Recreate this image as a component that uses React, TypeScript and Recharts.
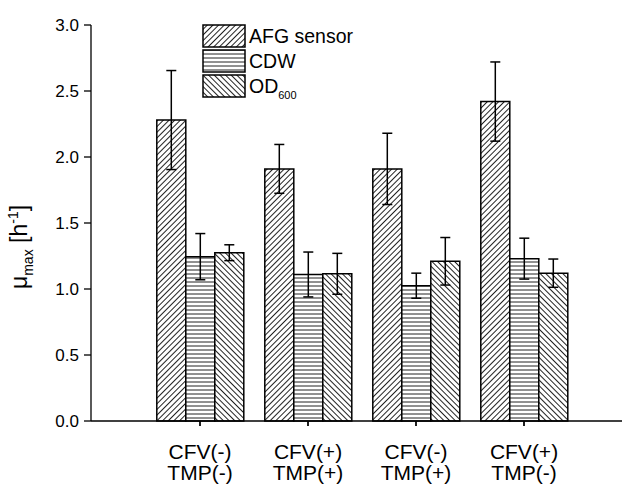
import React from 'react';
import { BarChart, Bar, XAxis, YAxis, ErrorBar } from 'recharts';

const cfvLabels = ['CFV(-)', 'CFV(+)', 'CFV(-)', 'CFV(+)'];
const tmpLabels = ['TMP(-)', 'TMP(+)', 'TMP(+)', 'TMP(-)'];
const afgValues = [2.28, 1.91, 1.91, 2.42];
const afgErrors = [0.375, 0.185, 0.27, 0.3];
const cdwValues = [1.245, 1.11, 1.025, 1.23];
const cdwErrors = [0.175, 0.17, 0.095, 0.155];
const odValues = [1.275, 1.115, 1.21, 1.12];
const odErrors = [0.06, 0.155, 0.18, 0.107];
const majorTicks = [0, 0.5, 1, 1.5, 2, 2.5, 3];
const minorTicks = [0.25, 0.75, 1.25, 1.75, 2.25, 2.75];

const data = cfvLabels.map((c, i) => ({
  name: c + ' ' + tmpLabels[i],
  afg: afgValues[i],
  afgErr: afgErrors[i],
  cdw: cdwValues[i],
  cdwErr: cdwErrors[i],
  od: odValues[i],
  odErr: odErrors[i],
}));

const FONT = '"Liberation Sans", Arial, sans-serif';

const Patterns = ({ prefix }: { prefix: string }) => (
  <defs>
    <pattern id={prefix + 'fwd'} patternUnits="userSpaceOnUse" width={4} height={4} patternTransform="rotate(45)">
      <rect width={4} height={4} fill="#fff" />
      <line x1={0.5} y1={0} x2={0.5} y2={4} stroke="#222" strokeWidth={1} />
    </pattern>
    <pattern id={prefix + 'hor'} patternUnits="userSpaceOnUse" width={4} height={4}>
      <rect width={4} height={4} fill="#fff" />
      <line x1={0} y1={2} x2={4} y2={2} stroke="#222" strokeWidth={1} />
    </pattern>
    <pattern id={prefix + 'bwd'} patternUnits="userSpaceOnUse" width={4} height={4} patternTransform="rotate(-45)">
      <rect width={4} height={4} fill="#fff" />
      <line x1={0.5} y1={0} x2={0.5} y2={4} stroke="#222" strokeWidth={1} />
    </pattern>
  </defs>
);

const XTick = (props: any) => {
  const { x, y, index } = props;
  return (
    <g>
      <line x1={x} y1={y - 5} x2={x} y2={y} stroke="#000" strokeWidth={1.3} />
      <text x={x} y={y} textAnchor="middle" fontSize={21} fontFamily={FONT} fill="#000">
        <tspan x={x} dy={33}>{cfvLabels[index]}</tspan>
        <tspan x={x} dy={21}>{tmpLabels[index]}</tspan>
      </text>
    </g>
  );
};

const YLabel = (props: any) => {
  const vb = props.viewBox || { x: 0, y: 0, width: 0, height: 0 };
  const cx = vb.x + 27;
  const cy = vb.y + vb.height / 2 + 24;
  return (
    <text
      transform={`translate(${cx},${cy}) rotate(-90)`}
      textAnchor="middle"
      fontFamily={FONT}
      fontSize={23}
      fill="#000"
    >
      <tspan>μ</tspan>
      <tspan fontSize={14} dy={6}>max</tspan>
      <tspan dy={-6}> [h</tspan>
      <tspan fontSize={14} dy={-9}>-1</tspan>
      <tspan dy={9}>]</tspan>
    </text>
  );
};

const legendItems = [
  { key: 'fwd', label: 'AFG sensor', sub: '' },
  { key: 'hor', label: 'CDW', sub: '' },
  { key: 'bwd', label: 'OD', sub: '600' },
];

const LegendBox = () => (
  <div style={{ position: 'absolute', left: 202, top: 24, fontFamily: FONT }}>
    <svg width={200} height={80} style={{ display: 'block' }}>
      <Patterns prefix="lg" />
      {legendItems.map((it, i) => (
        <g key={it.key}>
          <rect x={1} y={1 + i * 25} width={42} height={22} fill={`url(#lg${it.key})`} stroke="#000" strokeWidth={1.5} />
          <text x={47} y={19 + i * 25} fontSize={19.5} fontFamily={FONT} fill="#000">
            {it.label}
            {it.sub ? <tspan fontSize={11} dy={6}>{it.sub}</tspan> : null}
          </text>
        </g>
      ))}
    </svg>
  </div>
);

export default function App() {
  return (
    <div style={{ position: 'absolute', left: 0, top: 0, width: 623, height: 489, background: '#fff' }}>
      <BarChart
        width={623}
        height={489}
        data={data}
        margin={{ top: 25, right: 1, bottom: 0, left: 0 }}
        barCategoryGap="10%"
        barGap={0}
      >
        <Patterns prefix="ch" />
        <XAxis
          dataKey="name"
          height={68}
          padding={{ left: 55, right: 44 }}
          tickSize={5}
          tickMargin={0}
          tickLine={{ stroke: '#000', strokeWidth: 1.3 }}
          tick={<XTick />}
          interval={0}
          axisLine={{ stroke: '#000', strokeWidth: 1.3 }}
        />
        <YAxis
          yAxisId="main"
          width={91}
          domain={[0, 3]}
          ticks={majorTicks}
          tickSize={7}
          tickMargin={5}
          interval={0}
          tickFormatter={(v: number) => v.toFixed(1)}
          tick={{ fill: '#000', fontSize: 17, fontFamily: FONT }}
          tickLine={{ stroke: '#000', strokeWidth: 1.3 }}
          axisLine={{ stroke: '#000', strokeWidth: 1.3 }}
          label={{ content: YLabel }}
        />
        <YAxis
          yAxisId="minor"
          width={0}
          domain={[0, 3]}
          ticks={minorTicks}
          tickSize={4}
          interval={0}
          tickFormatter={() => ''}
          tickLine={{ stroke: '#000', strokeWidth: 1.3 }}
          axisLine={false}
        />
        <Bar yAxisId="main" dataKey="afg" fill="url(#chfwd)" stroke="#000" strokeWidth={1.5} isAnimationActive={false}>
          <ErrorBar dataKey="afgErr" width={5} stroke="#000" strokeWidth={1.5} />
        </Bar>
        <Bar yAxisId="main" dataKey="cdw" fill="url(#chhor)" stroke="#000" strokeWidth={1.5} isAnimationActive={false}>
          <ErrorBar dataKey="cdwErr" width={5} stroke="#000" strokeWidth={1.5} />
        </Bar>
        <Bar yAxisId="main" dataKey="od" fill="url(#chbwd)" stroke="#000" strokeWidth={1.5} isAnimationActive={false}>
          <ErrorBar dataKey="odErr" width={5} stroke="#000" strokeWidth={1.5} />
        </Bar>
      </BarChart>
      <LegendBox />
    </div>
  );
}
